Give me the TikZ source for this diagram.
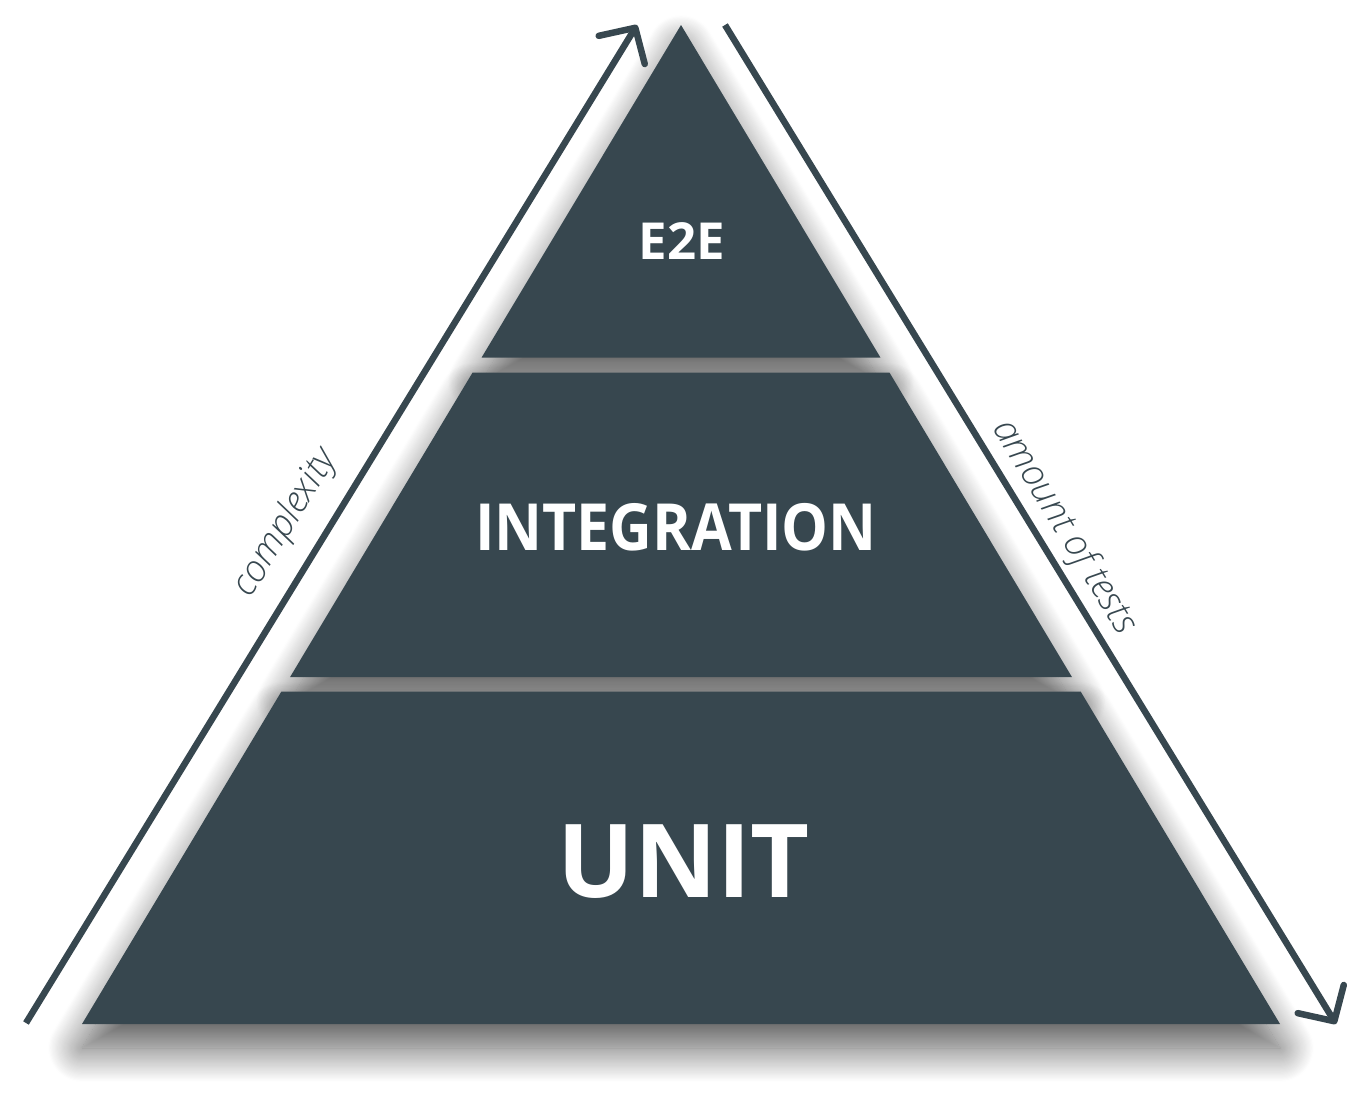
\documentclass[tikz,border=0pt]{standalone}
\usepackage{fontspec}
\setmainfont{Open Sans}
\IfFontExistsTF{Open Sans Light Italic}
  {\newfontfamily\axisfont{Open Sans Light Italic}}
  {\newfontfamily\axisfont{Open Sans}[UprightFont=*-Italic]}
\usetikzlibrary{arrows.meta,shadows.blur}
\definecolor{slate}{HTML}{37474F}
\tikzset{
  layer/.style={fill=slate, draw=none,
    blur shadow={shadow xshift=0pt, shadow yshift=-24pt, shadow blur radius=34pt, shadow blur steps=30, shadow opacity=66}},
  layertext/.style={text=white, font=\bfseries, inner sep=0pt, anchor=base},
  axisline/.style={draw=slate, line width=6.5pt,
    -{Straight Barb[length=26pt, width=54pt, round]}},
  axistext/.style={text=slate, font=\axisfont\fontsize{37}{42}\selectfont, inner sep=0pt}
}
\begin{document}
\begin{tikzpicture}[x=1pt, y=-1pt]
\useasboundingbox (0,0) rectangle (1364,1100);
% layers
\path[layer] (681,25) -- (880.4,357.5) -- (481.6,357.5) -- cycle;
\path[layer] (472.6,372.5) -- (889.4,372.5) -- (1071.9,677) -- (290.1,677) -- cycle;
\path[layer] (281.4,691.5) -- (1080.6,691.5) -- (1280,1024) -- (82,1024) -- cycle;
% labels
\node[layertext, font=\bfseries\fontsize{51}{56}\selectfont] (e2e) at (682,259) {E2E};
\node[layertext, font=\bfseries\fontsize{65}{70}\selectfont] (integ) at (676,550.7) {\scalebox{0.908}[1]{INTEGRATION}};
\node[layertext, font=\bfseries\fontsize{102}{110}\selectfont] (unit) at (683.5,897.3) {UNIT};
% axes
\coordinate (cxs) at (26,1023);
\coordinate (cxe) at (637,25);
\coordinate (ats) at (725,25);
\coordinate (ate) at (1336,1024);
\draw[axisline] (cxs) -- (cxe);
\draw[axisline] (ats) -- (ate);
\node[axistext, rotate=58.5] (cxlabel) at (286,523) {complexity};
\node[axistext, rotate=-58.5] (atlabel) at (1064,527) {amount of tests};
\end{tikzpicture}
\end{document}
